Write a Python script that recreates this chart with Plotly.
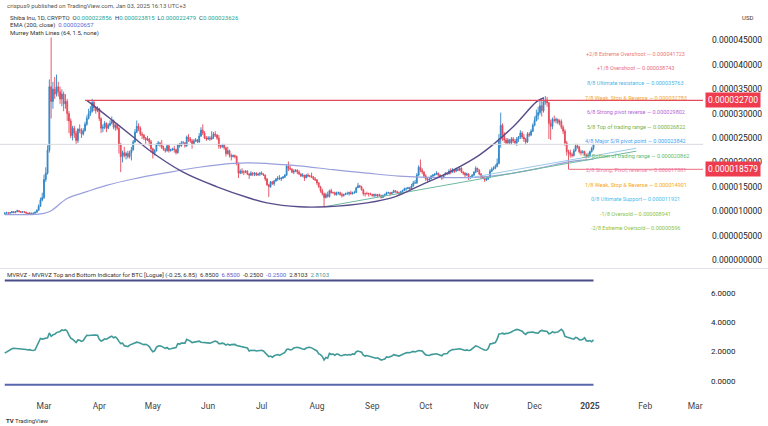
import pandas as pd
import plotly.graph_objects as go

W, H = 768, 426
U = 1e-6  # prices below are in millionths of a dollar

first_open = 9.5
closes = [
    # Feb 8 - Feb 29
    9.6, 9.7, 9.6, 9.7, 9.9, 9.7, 9.9, 10.1, 9.9, 9.8, 9.9, 9.8, 9.6, 9.5, 9.6, 9.4, 9.6, 9.8, 10.2, 11.0, 12.3, 12.8,
    # Mar
    16.5, 17.8, 22.5, 35.5, 32.5, 35.0, 34.0, 35.5, 34.5, 33.0, 34.0, 32.0, 32.5, 30.0, 28.5, 25.5,
    27.0, 26.0, 24.5, 26.8, 26.5, 25.8, 26.5, 27.8, 29.0, 30.0, 30.5, 32.3, 31.2, 30.6, 31.0,
    # Apr
    29.0, 27.0, 27.2, 28.0, 27.0, 27.6, 28.0, 28.6, 27.2, 27.6, 27.0, 23.6, 21.2, 22.0, 21.4,
    21.8, 21.2, 22.0, 22.6, 24.2, 26.2, 27.4, 27.0, 25.8, 25.6, 25.0, 24.6, 24.8, 24.2, 22.8,
    # May
    21.8, 22.4, 23.6, 24.0, 23.6, 23.0, 22.6, 22.4, 23.4, 22.4, 22.6, 22.8, 22.6, 22.0, 23.6, 23.4,
    24.0, 24.0, 23.4, 25.2, 24.8, 24.4, 23.8, 24.4, 24.6, 24.2, 25.4, 26.6, 26.0, 25.0, 24.8,
    # Jun
    25.0, 24.8, 25.2, 25.8, 25.6, 25.0, 23.4, 23.2, 23.6, 23.0, 21.8, 22.4, 21.4, 21.2, 21.4,
    21.2, 19.8, 17.8, 18.2, 18.0, 18.0, 18.2, 17.6, 17.4, 17.8, 17.6, 17.8, 17.4, 17.6, 17.8,
    # Jul
    17.6, 17.4, 16.6, 15.4, 15.0, 16.0, 15.6, 16.2, 16.6, 16.8, 16.6, 16.8, 17.0, 17.4, 19.2, 18.8,
    18.6, 18.0, 18.2, 18.4, 18.0, 17.6, 17.2, 17.4, 16.8, 17.4, 17.2, 17.2, 17.0, 16.6, 16.4,
    # Aug
    15.8, 15.0, 14.2, 13.6, 12.8, 13.4, 13.0, 14.2, 13.8, 13.8, 13.4, 13.8, 13.8, 13.4, 13.2, 13.4,
    13.6, 13.6, 13.8, 13.6, 13.8, 13.8, 14.8, 15.2, 15.0, 14.4, 13.6, 13.6, 13.6, 13.6, 13.4,
    # Sep
    13.2, 13.4, 13.2, 13.4, 13.2, 12.8, 13.2, 13.4, 13.8, 13.8, 13.6, 13.8, 14.2, 14.0, 13.8,
    13.6, 14.0, 14.2, 14.6, 14.6, 14.8, 14.6, 15.2, 15.8, 15.8, 17.4, 19.0, 18.4, 18.0, 17.2,
    # Oct
    16.6, 16.4, 16.6, 17.2, 17.4, 17.6, 17.8, 17.4, 17.0, 16.8, 17.4, 17.8, 17.6, 18.2, 18.0, 18.4,
    18.2, 18.6, 18.4, 18.8, 18.0, 17.8, 17.4, 17.6, 16.8, 17.0, 17.4, 18.0, 18.8, 18.4, 17.6,
    # Nov
    17.0, 16.8, 16.4, 16.6, 17.0, 18.2, 18.6, 18.8, 19.2, 19.8, 24.8, 27.6, 25.6, 24.6, 24.0,
    24.6, 24.0, 24.8, 24.4, 24.0, 24.8, 25.2, 26.0, 25.2, 24.8, 24.2, 25.8, 25.6, 26.4, 27.6,
    # Dec
    28.6, 29.6, 30.2, 31.6, 30.6, 32.4, 32.8, 32.2, 28.0, 27.4, 28.8, 28.6, 28.8, 28.2, 28.4, 27.2,
    26.4, 24.0, 22.2, 22.0, 21.6, 21.4, 22.4, 23.4, 23.2, 22.2, 22.0, 22.2, 21.6, 21.2, 21.4,
    # Jan 1 - Jan 3
    22.2, 22.856, 23.626,
]
highs = [
    9.8, 9.9, 9.8, 9.8, 10.0, 10.0, 10.0, 10.3, 10.2, 10.0, 10.0, 10.0, 9.9, 9.7, 9.8, 9.7, 9.7, 9.9, 10.4, 11.4, 12.8, 13.8,
    17.5, 19.0, 23.5, 37.0, 45.6, 36.5, 37.5, 38.0, 36.5, 35.5, 35.0, 34.5, 34.0, 33.0, 30.5, 29.0,
    27.5, 27.5, 26.5, 27.0, 27.8, 27.0, 27.0, 28.3, 29.6, 31.0, 31.5, 33.0, 32.6, 31.5, 31.5,
    31.2, 29.2, 27.8, 28.5, 28.2, 28.0, 28.6, 29.4, 28.8, 27.9, 28.0, 27.3, 24.0, 22.4, 23.2,
    22.2, 22.4, 22.4, 23.2, 24.6, 26.8, 28.6, 28.0, 27.4, 26.2, 25.8, 25.2, 25.4, 25.0, 24.6,
    23.0, 22.7, 23.9, 24.4, 24.2, 24.6, 23.4, 23.0, 23.6, 23.6, 22.8, 23.0, 23.4, 22.8, 23.8, 24.0,
    24.4, 24.4, 24.2, 25.5, 25.8, 25.2, 24.8, 24.8, 25.0, 24.8, 26.0, 27.2, 27.8, 26.4, 25.4,
    25.4, 25.4, 26.4, 26.2, 26.4, 25.8, 25.6, 23.6, 23.8, 23.8, 23.2, 23.2, 22.6, 21.8, 21.6,
    21.6, 21.4, 20.0, 18.6, 18.8, 18.4, 18.4, 18.4, 17.8, 18.2, 18.0, 18.0, 18.0, 17.8, 18.0,
    18.2, 17.8, 17.5, 16.8, 15.6, 16.2, 16.2, 16.4, 16.8, 17.2, 17.4, 17.0, 17.2, 17.6, 19.6, 20.2,
    19.4, 18.8, 18.6, 18.6, 18.6, 18.4, 17.8, 17.8, 17.4, 17.6, 17.8, 17.4, 17.9, 17.2, 17.0,
    16.6, 16.0, 15.2, 14.6, 13.8, 13.8, 14.0, 14.4, 14.6, 14.0, 14.0, 14.0, 14.0, 14.0, 13.8, 13.6,
    13.8, 14.0, 14.0, 14.2, 14.0, 14.2, 15.0, 15.8, 15.4, 15.2, 14.6, 13.8, 14.0, 13.8, 13.8,
    13.6, 13.6, 13.6, 13.5, 13.6, 13.4, 13.4, 13.6, 14.0, 14.0, 13.9, 14.0, 14.4, 14.3, 14.2,
    14.0, 14.2, 14.4, 14.8, 14.9, 15.0, 15.0, 15.6, 16.2, 16.4, 17.8, 19.4, 20.6, 18.8, 18.2,
    17.6, 17.0, 16.9, 17.4, 17.6, 17.8, 18.2, 17.9, 17.6, 17.2, 17.6, 18.0, 17.9, 18.6, 18.8, 18.8,
    18.6, 18.9, 18.8, 19.0, 19.0, 18.2, 18.0, 17.9, 17.8, 17.2, 17.6, 18.2, 19.2, 18.9, 18.6,
    17.8, 17.2, 16.9, 17.0, 17.2, 18.6, 19.0, 19.2, 19.6, 20.8, 25.8, 30.2, 28.0, 26.2, 25.0,
    25.0, 24.8, 25.2, 25.2, 24.8, 25.2, 25.4, 26.6, 26.4, 25.8, 25.0, 26.2, 26.2, 26.8, 28.0,
    29.4, 30.8, 31.4, 32.6, 32.8, 33.4, 33.6, 33.4, 32.4, 28.8, 29.2, 29.6, 29.2, 29.0, 28.8, 28.8,
    27.6, 26.8, 24.4, 22.6, 22.6, 22.0, 22.8, 23.8, 23.8, 23.4, 22.6, 22.5, 22.4, 21.8, 22.0,
    22.4, 23.2, 23.815,
]
lows = [
    9.3, 9.5, 9.5, 9.5, 9.6, 9.6, 9.6, 9.8, 9.8, 9.6, 9.7, 9.6, 9.5, 9.3, 9.4, 9.3, 9.3, 9.5, 9.7, 10.1, 10.9, 12.0,
    12.5, 16.0, 17.5, 22.0, 29.0, 31.0, 33.0, 33.5, 33.5, 32.0, 31.5, 30.5, 31.0, 28.5, 26.0, 25.0,
    24.5, 25.0, 23.8, 24.0, 26.0, 25.0, 25.5, 26.3, 27.5, 28.8, 29.5, 30.2, 30.5, 30.0, 30.3,
    28.5, 26.0, 26.2, 26.8, 26.2, 26.8, 27.4, 27.8, 26.8, 26.5, 26.6, 21.8, 18.0, 20.0, 21.0,
    20.6, 20.8, 20.8, 20.4, 22.4, 24.0, 26.0, 26.4, 25.4, 24.8, 24.6, 23.8, 24.4, 23.4, 22.0,
    20.8, 21.4, 22.2, 23.4, 23.2, 22.8, 22.4, 22.0, 22.2, 22.0, 22.2, 22.4, 22.0, 21.6, 21.8, 23.0,
    23.2, 23.8, 23.0, 23.2, 24.2, 24.0, 22.8, 23.6, 24.2, 24.0, 24.0, 25.2, 25.6, 24.8, 24.4,
    24.6, 24.4, 24.6, 24.8, 25.2, 24.6, 22.8, 22.8, 23.0, 22.6, 21.2, 21.6, 21.0, 20.4, 21.0,
    20.8, 19.4, 16.8, 17.6, 17.6, 17.4, 17.8, 17.4, 16.6, 17.2, 17.2, 17.2, 17.2, 17.3, 17.2,
    17.4, 17.2, 16.2, 15.2, 12.9, 14.8, 15.4, 15.2, 16.0, 16.2, 16.4, 16.2, 16.6, 16.8, 17.2, 18.2,
    18.4, 17.8, 17.6, 18.0, 17.6, 17.4, 17.0, 17.0, 16.2, 16.8, 17.0, 16.9, 16.8, 16.4, 16.2,
    15.4, 14.8, 13.8, 13.2, 10.9, 12.6, 12.8, 12.8, 13.6, 13.6, 13.2, 13.2, 13.4, 13.2, 12.8, 13.0,
    13.3, 13.4, 13.2, 13.4, 13.4, 13.6, 13.8, 14.8, 14.8, 14.2, 13.2, 13.0, 13.4, 13.0, 13.3,
    13.0, 12.8, 13.0, 12.8, 13.0, 12.6, 12.8, 13.0, 13.4, 13.6, 13.2, 13.6, 13.8, 13.8, 13.6,
    13.4, 13.6, 13.8, 14.2, 14.2, 14.6, 14.4, 14.6, 15.0, 15.6, 15.6, 17.2, 18.0, 17.6, 16.8,
    16.2, 16.0, 16.0, 16.6, 17.0, 17.2, 17.4, 17.0, 16.8, 16.4, 16.8, 17.4, 17.4, 17.6, 17.6, 17.9,
    17.8, 18.0, 18.2, 18.2, 17.8, 17.4, 17.0, 17.2, 16.4, 16.6, 16.9, 17.2, 17.8, 18.0, 17.4,
    16.6, 16.6, 16.0, 16.2, 16.4, 16.8, 18.0, 18.4, 18.6, 19.0, 19.6, 23.0, 24.4, 24.0, 23.6,
    23.8, 23.6, 23.6, 24.0, 23.6, 23.4, 24.2, 24.8, 24.8, 24.2, 23.6, 24.0, 25.2, 25.4, 26.2,
    27.4, 28.4, 28.8, 29.8, 29.4, 30.2, 31.8, 31.4, 24.8, 24.6, 26.8, 28.2, 28.0, 27.8, 27.6, 26.8,
    25.8, 23.4, 21.4, 18.579, 21.0, 21.0, 21.2, 22.2, 22.8, 21.8, 21.4, 21.8, 21.4, 20.8, 21.0,
    21.2, 22.0, 22.479,
]

# MVRV Z-score of BTC, same days
mvrvz = [
    1.90, 1.98, 2.05, 2.10, 2.20, 2.23, 2.22, 2.25, 2.20, 2.18, 2.21, 2.20, 2.15, 2.12, 2.14, 2.10, 2.08, 2.12, 2.35, 2.62, 2.90, 2.86,
    2.90, 2.92, 2.95, 3.28, 3.05, 3.15, 3.18, 3.30, 3.32, 3.38, 3.48, 3.45, 3.50, 3.40, 3.12, 2.92,
    2.85, 2.72, 2.62, 2.80, 2.78, 2.70, 2.75, 2.95, 3.12, 3.10, 3.12, 3.15, 3.14, 3.13, 3.12,
    2.85, 2.72, 2.78, 2.88, 2.85, 2.90, 3.00, 3.06, 2.95, 3.00, 2.90, 2.70, 2.55, 2.58, 2.40,
    2.38, 2.34, 2.45, 2.50, 2.55, 2.60, 2.65, 2.62, 2.55, 2.52, 2.48, 2.50, 2.45, 2.35, 2.15,
    2.00, 2.05, 2.30, 2.38, 2.40, 2.36, 2.30, 2.22, 2.28, 2.18, 2.20, 2.22, 2.25, 2.28, 2.55, 2.52,
    2.58, 2.60, 2.58, 2.84, 2.80, 2.72, 2.62, 2.64, 2.66, 2.65, 2.72, 2.64, 2.62, 2.60, 2.58,
    2.60, 2.58, 2.62, 2.70, 2.72, 2.68, 2.55, 2.55, 2.58, 2.54, 2.45, 2.52, 2.45, 2.48, 2.47,
    2.50, 2.42, 2.40, 2.38, 2.36, 2.30, 2.32, 2.25, 2.05, 2.10, 2.08, 2.10, 2.05, 2.07, 2.12,
    2.10, 2.05, 1.92, 1.75, 1.66, 1.70, 1.62, 1.72, 1.76, 1.80, 1.75, 1.80, 1.85, 1.95, 2.15, 2.18,
    2.12, 2.14, 2.25, 2.28, 2.30, 2.26, 2.20, 2.18, 2.15, 2.25, 2.28, 2.30, 2.26, 2.20, 2.12,
    2.05, 1.85, 1.80, 1.68, 1.43, 1.60, 1.55, 1.88, 1.82, 1.84, 1.76, 1.84, 1.82, 1.74, 1.72, 1.78,
    1.80, 1.76, 1.80, 1.78, 1.85, 1.82, 2.00, 2.04, 2.02, 1.96, 1.76, 1.70, 1.74, 1.70, 1.68,
    1.62, 1.60, 1.55, 1.58, 1.52, 1.43, 1.46, 1.50, 1.64, 1.62, 1.66, 1.70, 1.80, 1.78, 1.75,
    1.70, 1.76, 1.82, 1.90, 1.92, 1.94, 1.93, 1.98, 2.02, 1.98, 2.04, 2.08, 2.06, 2.04, 1.90,
    1.78, 1.76, 1.74, 1.80, 1.80, 1.84, 1.86, 1.82, 1.76, 1.72, 1.84, 1.86, 1.88, 2.02, 2.10, 2.14,
    2.15, 2.18, 2.16, 2.20, 2.16, 2.14, 2.08, 2.12, 2.08, 2.10, 2.20, 2.32, 2.40, 2.36, 2.28,
    2.18, 2.16, 2.12, 2.10, 2.22, 2.52, 2.55, 2.60, 2.62, 2.85, 3.20, 3.22, 3.26, 3.20, 3.25,
    3.24, 3.28, 3.34, 3.42, 3.48, 3.52, 3.50, 3.44, 3.40, 3.26, 3.18, 3.30, 3.32, 3.36, 3.34,
    3.30, 3.28, 3.26, 3.40, 3.45, 3.42, 3.40, 3.38, 3.22, 3.25, 3.36, 3.30, 3.32, 3.34, 3.44, 3.52,
    3.40, 3.05, 3.00, 2.95, 2.92, 2.88, 2.86, 2.98, 2.94, 2.82, 2.80, 2.84, 2.95, 2.75, 2.72,
    2.76, 2.68, 2.81,
]
mvrvz_top, mvrvz_bottom = 6.85, -0.25

# EMA(200)
ema_dates = ["2024-02-08", "2024-02-25", "2024-03-01", "2024-03-05", "2024-03-14", "2024-03-25",
             "2024-04-05", "2024-04-20", "2024-05-09", "2024-05-27", "2024-06-15", "2024-06-25",
             "2024-07-10", "2024-07-22", "2024-08-10", "2024-08-29", "2024-09-16", "2024-10-10",
             "2024-10-31", "2024-11-19", "2024-12-06", "2024-12-20", "2025-01-03"]
ema_vals = [9.30, 9.35, 9.55, 10.1, 12.6, 14.0, 15.3, 16.6, 17.9, 19.0, 19.8, 19.9,
            19.6, 19.3, 18.5, 17.8, 17.2, 16.9, 17.0, 17.8, 19.0, 20.1, 20.657]

# hand-drawn cup curve
cup_dates = ["2024-03-25", "2024-04-07", "2024-04-20", "2024-04-29", "2024-05-18", "2024-06-06",
             "2024-06-24", "2024-07-04", "2024-07-22", "2024-08-06", "2024-08-29", "2024-09-14",
             "2024-09-28", "2024-10-13", "2024-10-31", "2024-11-19", "2024-12-02", "2024-12-06"]
cup_vals = [32.7, 29.0, 25.2, 22.5, 18.0, 15.0, 12.7, 11.7, 10.9, 10.9, 11.7, 13.0,
            15.3, 17.8, 21.5, 27.3, 32.4, 33.2]

# trend lines (start, end)
trend_green = (["2024-08-05", "2025-01-27"], [10.9, 22.3])
trend_blue = (["2024-10-25", "2025-01-27"], [16.8, 22.9])

# horizontal levels
resistance = ("2024-03-24", 32.7)
support = ("2024-12-20", 18.579)
pivot_line = 23.7

murrey_levels = [41.723, 38.743, 35.763, 32.783, 29.802, 26.822, 23.842, 20.862, 17.881, 14.901, 11.921, 8.941, 5.96]
murrey_names = ["+2/8 Extreme Overshoot — 0.000041723", "+1/8 Overshoot — 0.000038743",
                "8/8 Ultimate resistance — 0.000035763", "7/8 Weak, Stop & Reverse — 0.000032783",
                "6/8 Strong pivot reverse — 0.000029802", "5/8 Top of trading range — 0.000026822",
                "4/8 Major S/R pivot point — 0.000023842", "3/8 Bottom of trading range — 0.000020862",
                "2/8 Strong, Pivot, reverse — 0.000017881", "1/8 Weak, Stop & Reverse — 0.000014901",
                "0/8 Ultimate Support— 0.000011921", "-1/8 Oversold— 0.000008941",
                "-2/8 Extreme Oversold— 0.00000596"]
murrey_colors = ["#ec7b7b", "#e86f86", "#4db6e6", "#f2a33a", "#b267d6", "#7cb342", "#42a5f5",
                 "#66bb6a", "#ef7aa6", "#f5a623", "#3fc0ee", "#8bc34a", "#8bc34a"]

price_ticks = [0, 5, 10, 15, 20, 25, 30, 35, 40, 45]
month_ticks = pd.date_range("2024-03-01", "2025-03-01", freq="MS")
month_text = ["Mar", "Apr", "May", "Jun", "Jul", "Aug", "Sep", "Oct", "Nov", "Dec", "<b>2025</b>", "Feb", "Mar"]

dates = pd.date_range("2024-02-08", "2025-01-03", freq="D")
assert len(closes) == len(highs) == len(lows) == len(mvrvz) == len(dates), \
    (len(closes), len(highs), len(lows), len(mvrvz), len(dates))

opens = [first_open] + closes[:-1]
o = [v * U for v in opens]
c = [v * U for v in closes]
hi = [max(h, a, b) * U for h, a, b in zip(highs, opens, closes)]
lo = [min(l, a, b) * U for l, a, b in zip(lows, opens, closes)]


def px_date(px):
    t = pd.Timestamp("2024-03-01") + pd.Timedelta(days=(px - 44) / 1.784)
    return t.strftime("%Y-%m-%d %H:%M")


def py(px):
    return 1 - px / H


XR = 703
FONT = "Roboto"

fig = go.Figure()

fig.add_trace(go.Candlestick(
    x=dates, open=o, high=hi, low=lo, close=c,
    increasing=dict(line=dict(color="#2f86c6", width=0.9), fillcolor="#2f86c6"),
    decreasing=dict(line=dict(color="#e5485a", width=0.9), fillcolor="#e5485a"),
    whiskerwidth=0, xaxis="x", yaxis="y", showlegend=False))

fig.add_trace(go.Scatter(x=ema_dates, y=[v * U for v in ema_vals], mode="lines", line_shape="spline",
                         line=dict(color="#9aa0dc", width=1.2), xaxis="x", yaxis="y", showlegend=False))
fig.add_trace(go.Scatter(x=trend_blue[0], y=[v * U for v in trend_blue[1]], mode="lines",
                         line=dict(color="#9cc8e8", width=1), xaxis="x", yaxis="y", showlegend=False))
fig.add_trace(go.Scatter(x=trend_green[0], y=[v * U for v in trend_green[1]], mode="lines",
                         line=dict(color="#6fb8a0", width=1), xaxis="x", yaxis="y", showlegend=False))
fig.add_trace(go.Scatter(x=cup_dates, y=[v * U for v in cup_vals], mode="lines", line_shape="spline",
                         line=dict(color="#5a4d8c", width=1.4), xaxis="x", yaxis="y", showlegend=False))

# lower pane
fig.add_trace(go.Scatter(x=[dates[0], dates[-1]], y=[mvrvz_top] * 2, mode="lines",
                         line=dict(color="#4a4c8a", width=2), xaxis="x2", yaxis="y2", showlegend=False))
fig.add_trace(go.Scatter(x=[dates[0], dates[-1]], y=[mvrvz_bottom] * 2, mode="lines",
                         line=dict(color="#5864ac", width=2), xaxis="x2", yaxis="y2", showlegend=False))
fig.add_trace(go.Scatter(x=dates, y=mvrvz, mode="lines", line=dict(color="#3f9a98", width=1.6),
                         xaxis="x2", yaxis="y2", showlegend=False))

shapes = [
    dict(type="line", xref="x", yref="y", x0=px_date(0), x1=px_date(XR), y0=pivot_line * U, y1=pivot_line * U,
         line=dict(color="#d6d9e0", width=1)),
    dict(type="line", xref="x", yref="y", x0=resistance[0], x1=px_date(XR), y0=resistance[1] * U,
         y1=resistance[1] * U, line=dict(color="#e34b5c", width=1.3)),
    dict(type="line", xref="x", yref="y", x0=support[0], x1=px_date(XR), y0=support[1] * U,
         y1=support[1] * U, line=dict(color="#f08a96", width=1.2)),
    dict(type="line", xref="paper", yref="paper", x0=0, x1=1, y0=py(268.5), y1=py(268.5),
         line=dict(color="#e0e3eb", width=1)),
]

ann = []
for lvl, name, col in zip(murrey_levels, murrey_names, murrey_colors):
    ann.append(dict(x=635.5 / W, xref="paper", y=lvl * U, yref="y", text=name, showarrow=False,
                    xanchor="center", yanchor="middle", yshift=2.5, font=dict(family=FONT, size=5.5, color=col)))

for val in (resistance[1], support[1]):
    ann.append(dict(x=(XR + 2) / W, xref="paper", y=val * U, yref="y", text="%.9f" % (val * U),
                    showarrow=False, xanchor="left", yanchor="middle", bgcolor="#ee3b4e", borderpad=2,
                    font=dict(family=FONT, size=8.5, color="white")))

teal, blue = "#22a69a", "#5b6bd5"
head = [
    (5, 6, "crispus9 published on TradingView.com, Jan 03, 2025 16:13 UTC+3", "#555"),
    (8, 17, "Shiba Inu, 1D, CRYPTO  O<span style='color:%s'>0.000022856</span>  H<span style='color:%s'>0.000023815</span>"
            "  L<span style='color:%s'>0.000022479</span>  C<span style='color:%s'>0.000023626</span>"
            % (teal, teal, teal, teal), "#333"),
    (8, 25, "EMA (200, close)  <span style='color:%s'>0.000020657</span>" % blue, "#333"),
    (8, 33, "Murrey Math Lines (64, 1.5, none)", "#333"),
    (740, 18, "USD", "#333"),
    (5, 275, "MVRVZ - MVRVZ Top and Bottom Indicator for BTC [Logue] (-0.25, 6.85)  6.8500  "
             "<span style='color:#6a5acd'>6.8500</span>  -0.2500  <span style='color:#5b6bd5'>-0.2500</span>"
             "  2.8103  <span style='color:#3f9a98'>2.8103</span>", "#333"),
    (4, 420, "<b>TV</b> TradingView", "#333"),
]
for x, y, t, col in head:
    ann.append(dict(x=x / W, xref="paper", y=py(y), yref="paper", text=t, showarrow=False,
                    xanchor="left", yanchor="middle", font=dict(family=FONT, size=6, color=col)))

fig.update_layout(
    width=W, height=H, margin=dict(l=0, r=0, t=0, b=0),
    paper_bgcolor="white", plot_bgcolor="white",
    font=dict(family=FONT, color="#333"),
    xaxis=dict(domain=[0, XR / W], range=[px_date(0), px_date(XR)], showticklabels=False,
               showgrid=False, zeroline=False, rangeslider=dict(visible=False), anchor="y"),
    yaxis=dict(domain=[py(268), 1], range=[-8 / 4.88 * U, 260 / 4.88 * U], side="right", anchor="x",
               tickvals=[v * U for v in price_ticks], tickformat=".9f", showgrid=False, zeroline=False,
               ticks="", ticklabelstandoff=8, tickfont=dict(family=FONT, size=8.5, color="#222")),
    xaxis2=dict(domain=[0, XR / W], matches="x", anchor="y2", tickvals=month_ticks, ticktext=month_text,
                showgrid=False, zeroline=False, ticks="", ticklabelstandoff=7,
                tickfont=dict(family=FONT, size=8.5, color="#444")),
    yaxis2=dict(domain=[py(392), py(270)], range=[-0.75, 7.57], side="right", anchor="x2",
                tickvals=[0, 2, 4, 6], tickformat=".4f", showgrid=False, zeroline=False,
                ticks="", ticklabelstandoff=7, tickfont=dict(family=FONT, size=8, color="#222")),
    shapes=shapes, annotations=ann,
)

# the page body has a default 8px margin; drop it so the figure sits at the window's corner
fig.write_html("out.html", config={"displayModeBar": False},
               post_script="document.body.style.margin='0';")
